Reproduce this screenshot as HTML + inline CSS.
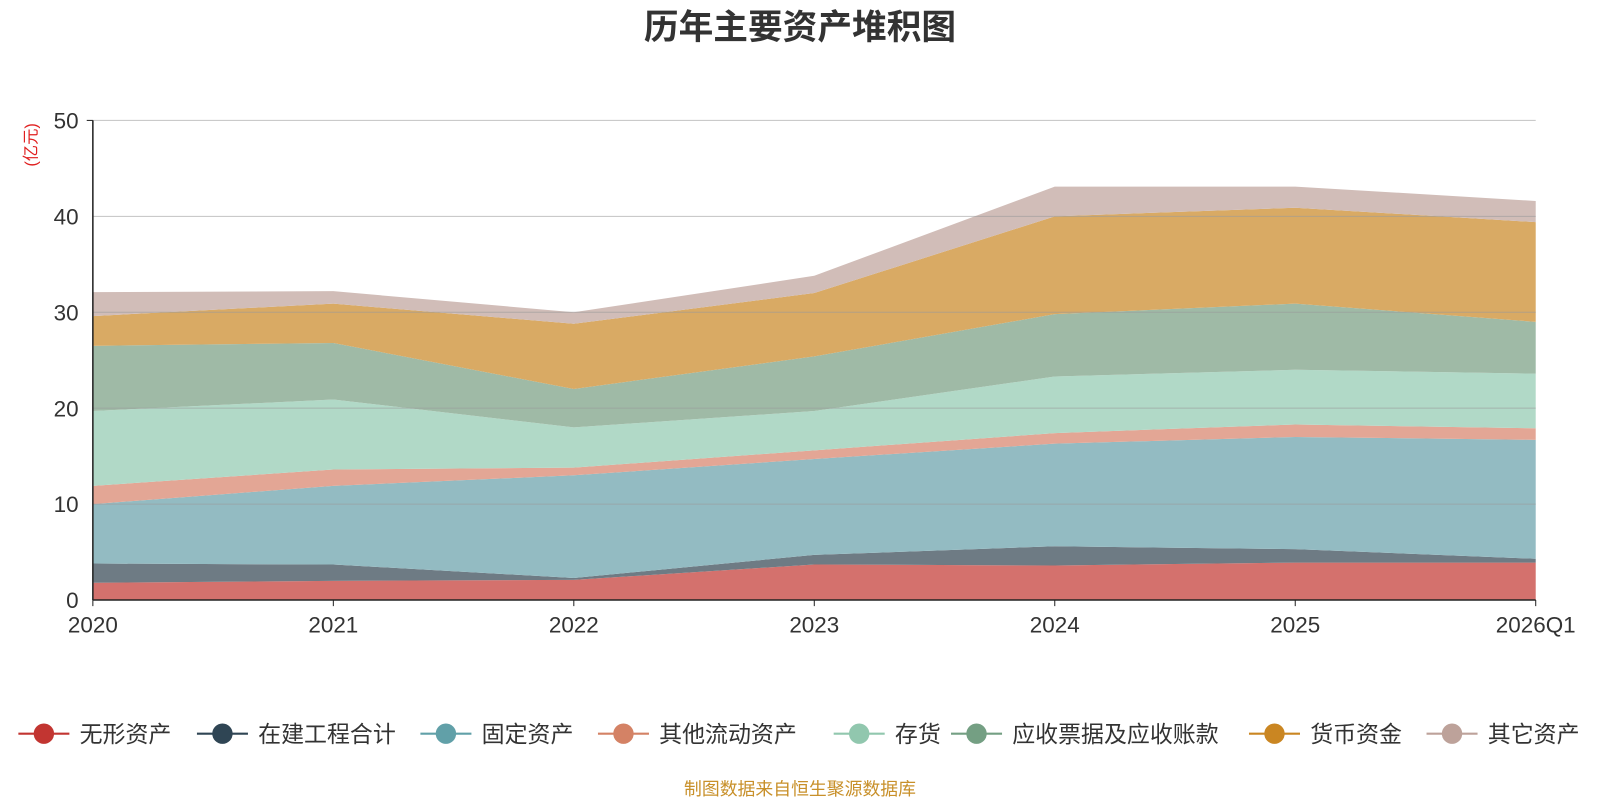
<!DOCTYPE html>
<html><head><meta charset="utf-8">
<style>
body{margin:0;background:#fff;width:1600px;height:800px;overflow:hidden;font-family:"Liberation Sans","Noto Sans CJK SC",sans-serif;}
svg text{font-family:"Liberation Sans","Noto Sans CJK SC",sans-serif;}
</style></head>
<body>
<svg id="chart" width="1600" height="800" viewBox="0 0 1568 784">
<text x="784" y="38" text-anchor="middle" font-size="34" font-weight="bold" fill="#333">历年主要资产堆积图</text>
<text transform="translate(36,142) rotate(-90)" text-anchor="middle" font-size="16" fill="#e02020">(亿元)</text>
<g id="areas"></g><g id="grid"></g><g id="axes"></g><g id="legend"></g>
<text x="784" y="779" text-anchor="middle" font-size="17.5" fill="#c8902a">制图数据来自恒生聚源数据库</text>
</svg>
<script>
const categories=["2020","2021","2022","2023","2024","2025","2026Q1"];
const seriesNames=["无形资产","在建工程合计","固定资产","其他流动资产","存货","应收票据及应收账款","货币资金","其它资产"];
const s0=[1.8,2.0,2.1,3.7,3.6,3.9,3.9];
const s1=[2.0,1.7,0.2,1.0,2.0,1.4,0.4];
const s2=[6.2,8.2,10.7,10.0,10.7,11.7,12.4];
const s3=[1.9,1.7,0.8,0.9,1.1,1.3,1.2];
const s4=[7.8,7.3,4.2,4.1,5.9,5.7,5.7];
const s5=[6.8,5.9,4.0,5.7,6.5,6.9,5.4];
const s6=[3.1,4.1,6.8,6.6,10.2,10.0,10.4];
const s7=[2.5,1.3,1.2,1.8,3.1,2.2,2.2];
const yTicks=[0,10,20,30,40,50];
const series=[s0,s1,s2,s3,s4,s5,s6,s7];
const fills=["#d4716d","#6e7b84","#93bbc2","#e3a695","#b1d9c7","#9fbaa6","#d9aa64","#d1bdb8"];
const legendColors=["#c23531","#2f4554","#61a0a8","#d48265","#91c7ae","#749f83","#ca8622","#bda29a"];
const legendX=[18,193,412,586,817,932,1224,1398];
const NS="http://www.w3.org/2000/svg";
const X0=91,X1=1505,Y0=588,Y1=118,YMAX=50;
const xs=i=>X0+(X1-X0)*i/(categories.length-1);
const ys=v=>Y0-(Y0-Y1)*v/YMAX;
function mk(t,a,p){const e=document.createElementNS(NS,t);for(const k in a)e.setAttribute(k,a[k]);p.appendChild(e);return e;}
const areas=document.getElementById('areas');
let base=categories.map(()=>0);
series.forEach((s,k)=>{
  const top=base.map((b,i)=>b+s[i]);
  let d="M"+categories.map((c,i)=>xs(i)+","+ys(top[i])).join(" L");
  for(let i=categories.length-1;i>=0;i--)d+=" L"+xs(i)+","+ys(base[i]);
  const p=mk('path',{d:d+"Z",fill:fills[k]},areas);
  
  
  base=top;
});
const grid=document.getElementById('grid');
yTicks.forEach(v=>{
  if(v>0){const l=mk('line',{x1:X0,x2:X1,y1:ys(v),y2:ys(v),stroke:"#999","stroke-opacity":0.6,"stroke-width":1},grid);
  
  }
  const t=mk('text',{x:X0-14,y:ys(v)+8,"text-anchor":"end","font-size":22,fill:"#333"},grid);
  t.textContent=v;
  
  
});
const axes=document.getElementById('axes');
mk('line',{x1:X0,x2:X0,y1:Y1,y2:Y0,stroke:"#222","stroke-width":1.5},axes);
mk('line',{x1:X0-6,x2:X0,y1:Y1,y2:Y1,stroke:"#222"},axes);
mk('line',{x1:X0,x2:X1,y1:Y0,y2:Y0,stroke:"#222","stroke-width":1.5},axes);
categories.forEach((c,i)=>{
  mk('line',{x1:xs(i),x2:xs(i),y1:Y0,y2:Y0+6,stroke:"#222"},axes);
  const t=mk('text',{x:xs(i),y:620,"text-anchor":"middle","font-size":22,fill:"#333"},axes);
  t.textContent=c;
  
  
});
const lg=document.getElementById('legend');
seriesNames.forEach((n,k)=>{
  const g=mk('g',{},lg);
  
  
  const x=legendX[k];
  mk('line',{x1:x,x2:x+50,y1:719,y2:719,stroke:legendColors[k],"stroke-width":2},g);
  mk('circle',{cx:x+25,cy:719,r:10,fill:legendColors[k]},g);
  const t=mk('text',{x:x+60,y:727,"font-size":22.5,fill:"#333"},g);
  t.textContent=n;
});
</script>
</body></html>
